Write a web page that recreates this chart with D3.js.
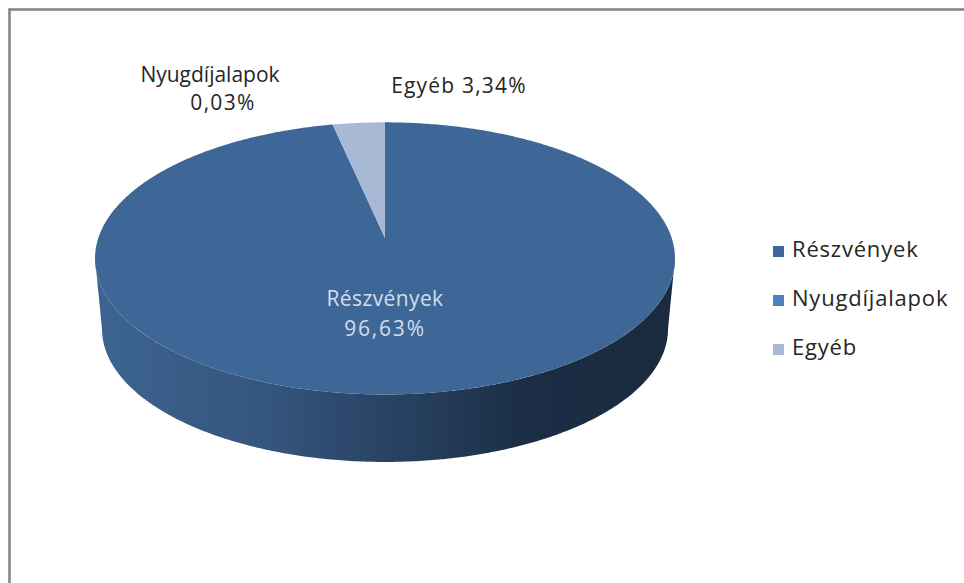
<!DOCTYPE html>
<html>
<head>
<meta charset="utf-8">
<script src="https://cdn.jsdelivr.net/npm/d3@7"></script>
<style>
  html, body { margin: 0; padding: 0; background: #fff; }
  svg { display: block; }
  text { font-family: "Open Sans", "Noto Sans", sans-serif; }
</style>
</head>
<body>
<svg id="chart" width="964" height="583"></svg>
<script>
// ---- data ----
const categories = ["Részvények", "Nyugdíjalapok", "Egyéb"];
const values = [96.63, 0.03, 3.34];
const valueLabels = ["96,63%", "0,03%", "3,34%"];
const colors = ["#3e6797", "#4f81bd", "#a8b9d6"];
const legendColors = ["#3e6798", "#4f81bd", "#a5b8d8"];

// ---- layout ----
const svg = d3.select("#chart");

// chart border (extends beyond the window on the right/bottom)
svg.append("rect").attr("x", 9.5).attr("y", 9.5).attr("width", 1100).attr("height", 1100)
  .attr("fill", "#fff").attr("stroke", "#878787").attr("stroke-width", 2.6);

// perspective projection of the pie discs
const cx = 385;
const K = 0.15;
const topD = { cy: 238, R: 286.7, A: 133 };
const botD = { cy: 309, R: 279.8, A: 130 };
function proj(d, a) {
  const X = Math.sin(a), Y = Math.cos(a);
  const s = 1 + K * Y;
  return [cx + d.R * X / s, d.cy - d.A * Y / s];
}
function sample(d, a0, a1) {
  const n = Math.max(2, Math.ceil(Math.abs(a1 - a0) / 0.01));
  return d3.range(n + 1).map(i => proj(d, a0 + (a1 - a0) * i / n));
}
const line = d3.line();

const pie = d3.pie().sort(null).value(d => d).startAngle(0).endAngle(2 * Math.PI);
const arcs = pie(values);

// side gradient
const defs = svg.append("defs");
const grad = defs.append("linearGradient").attr("id", "side")
  .attr("gradientUnits", "userSpaceOnUse")
  .attr("x1", cx - 290).attr("x2", cx + 290).attr("y1", 0).attr("y2", 0);
grad.append("stop").attr("offset", "0").attr("stop-color", "#3d6491");
grad.append("stop").attr("offset", "0.3").attr("stop-color", "#34557d");
grad.append("stop").attr("offset", "0.55").attr("stop-color", "#263f5e");
grad.append("stop").attr("offset", "0.75").attr("stop-color", "#1b2d44");
grad.append("stop").attr("offset", "1").attr("stop-color", "#1a2b40");

// side wall: front part between silhouette extremes
const ext = Math.acos(-K);
const sidePts = sample(topD, ext, 2 * Math.PI - ext)
  .concat(sample(botD, 2 * Math.PI - ext, ext));
svg.append("path").attr("d", line(sidePts) + "Z").attr("fill", "url(#side)");

// top face wedges
svg.append("g").selectAll("path").data(arcs).join("path")
  .attr("d", d => line([[cx, topD.cy]].concat(sample(topD, d.startAngle, d.endAngle))) + "Z")
  .attr("fill", (d, i) => colors[i]);

// data labels
const labelFont = 21;
const inside = svg.append("text").attr("x", cx).attr("y", 306)
  .attr("text-anchor", "middle").attr("fill", "#d3deeb").attr("font-size", labelFont);
inside.append("tspan").attr("x", cx).attr("dy", 0).attr("letter-spacing", 0.4).text(categories[0]);
inside.append("tspan").attr("x", cx).attr("dy", 30).attr("letter-spacing", 1.8).text(valueLabels[0]);

const nlx = cx - 175;
const nl = svg.append("text").attr("x", nlx).attr("y", 82)
  .attr("text-anchor", "middle").attr("fill", "#262626").attr("font-size", labelFont);
nl.append("tspan").attr("x", nlx).attr("dy", 0).text(categories[1]);
nl.append("tspan").attr("x", nlx + 13).attr("dy", 28).attr("letter-spacing", 1.3).text(valueLabels[1]);

svg.append("text").attr("x", cx + 74).attr("y", 93)
  .attr("text-anchor", "middle").attr("fill", "#262626").attr("font-size", labelFont)
  .attr("letter-spacing", 1.2)
  .text(categories[2] + " " + valueLabels[2]);

// legend
const legend = svg.append("g").attr("transform", "translate(773,0)");
const ly = d3.scalePoint().domain(categories).range([257, 355]);
const items = legend.selectAll("g").data(categories).join("g")
  .attr("transform", d => `translate(0,${ly(d)})`);
items.append("rect").attr("x", 0).attr("y", -11).attr("width", 11).attr("height", 11)
  .attr("fill", (d, i) => legendColors[i]);
items.append("text").attr("x", 19).attr("y", 0).attr("font-size", 22).attr("letter-spacing", 0.8)
  .attr("fill", "#262626").text(d => d);
</script>
</body>
</html>
